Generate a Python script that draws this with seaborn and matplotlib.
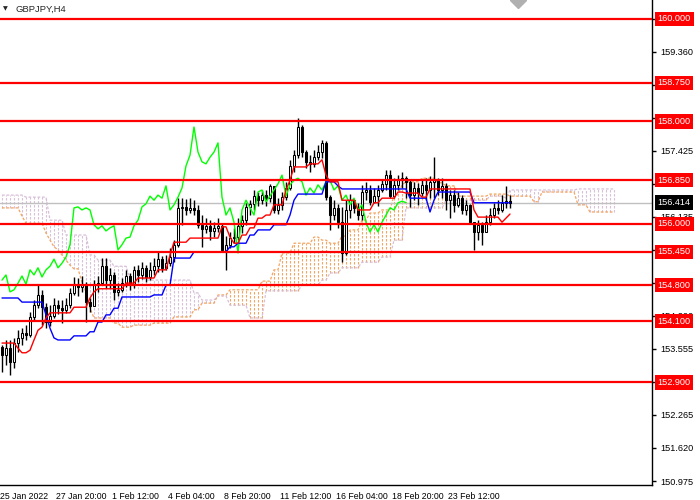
import numpy as np
import matplotlib
matplotlib.use('Agg')
import matplotlib.pyplot as plt
import matplotlib.transforms as mtransforms
import seaborn as sns

#### Data (GBPJPY H4) ####
symbol = 'GBPJPY,H4'
first_open = 153.60
closes = [153.44, 153.57, 153.30, 153.67, 153.77, 153.87, 153.83, 154.18, 154.41, 154.61,
          154.37, 154.08, 154.20, 154.41, 154.35, 154.32, 154.41, 154.65, 154.80, 154.76,
          154.82, 154.47, 154.39, 154.80, 154.84, 155.17, 154.90, 155.00, 154.67, 154.71,
          154.84, 154.98, 154.82, 155.10, 155.00, 155.14, 154.96, 155.10, 155.17, 155.31,
          155.14, 155.23, 155.35, 155.59, 156.31, 156.33, 156.27, 156.31, 156.27, 155.98,
          155.90, 155.96, 155.86, 155.92, 155.96, 155.49, 155.59, 155.72, 155.74, 155.96,
          156.07, 156.33, 156.39, 156.54, 156.46, 156.56, 156.50, 156.74, 156.27, 156.37,
          156.52, 156.70, 157.13, 157.34, 157.89, 157.40, 157.21, 157.17, 157.30, 157.40,
          157.58, 156.52, 156.17, 156.31, 156.03, 155.43, 156.27, 156.46, 156.31, 156.17,
          156.62, 156.66, 156.43, 156.54, 156.66, 156.78, 156.95, 156.54, 156.76, 156.85,
          156.89, 156.82, 156.56, 156.70, 156.60, 156.76, 156.66, 156.82, 156.85, 156.66,
          156.74, 156.46, 156.56, 156.37, 156.50, 156.27, 156.37, 156.03, 155.84, 155.98,
          155.84, 156.03, 156.17, 156.31, 156.27, 156.41, 156.44, 156.414]
highs = [153.63, 153.73, 153.73, 153.77, 153.92, 153.96, 154.02, 154.28, 154.51, 154.80,
         154.71, 154.45, 154.41, 154.55, 154.51, 154.51, 154.55, 154.74, 154.96, 154.94,
         154.98, 154.86, 154.55, 154.90, 154.98, 155.33, 155.33, 155.14, 155.06, 154.84,
         154.94, 155.10, 155.04, 155.17, 155.19, 155.25, 155.19, 155.25, 155.33, 155.45,
         155.37, 155.39, 155.53, 155.68, 156.50, 156.50, 156.48, 156.50, 156.46, 156.37,
         156.17, 156.11, 156.07, 156.03, 156.11, 156.00, 155.76, 155.84, 155.92, 156.11,
         156.17, 156.41, 156.46, 156.66, 156.62, 156.66, 156.66, 156.78, 156.74, 156.50,
         156.62, 156.82, 157.25, 157.44, 158.07, 157.93, 157.44, 157.34, 157.44, 157.54,
         157.64, 157.62, 156.56, 156.46, 156.39, 156.33, 156.46, 156.58, 156.46, 156.41,
         156.76, 156.82, 156.76, 156.70, 156.76, 156.85, 157.05, 157.05, 156.89, 156.95,
         157.01, 156.93, 156.85, 156.82, 156.80, 156.85, 156.89, 156.93, 157.30, 156.89,
         156.89, 156.80, 156.66, 156.66, 156.62, 156.56, 156.46, 156.39, 156.03, 156.07,
         156.03, 156.17, 156.31, 156.41, 156.46, 156.56, 156.74, 156.56]
lows = [153.10, 153.24, 153.05, 153.18, 153.49, 153.63, 153.73, 153.79, 154.12, 154.35,
        154.02, 153.96, 154.00, 154.16, 154.24, 154.06, 154.26, 154.35, 154.61, 154.59,
        154.67, 154.08, 154.28, 154.39, 154.67, 154.80, 154.74, 154.74, 154.51, 154.59,
        154.67, 154.76, 154.71, 154.74, 154.86, 154.92, 154.86, 154.90, 155.00, 155.06,
        155.06, 155.10, 155.17, 155.25, 155.55, 155.98, 156.17, 156.21, 156.17, 155.92,
        155.55, 155.82, 155.68, 155.74, 155.84, 155.45, 155.10, 155.53, 155.62, 155.68,
        155.82, 155.98, 156.17, 156.27, 156.35, 156.39, 156.35, 156.43, 156.21, 156.19,
        156.27, 156.46, 156.66, 157.01, 157.28, 157.30, 157.09, 157.01, 157.11, 157.25,
        157.28, 156.46, 155.88, 156.07, 155.92, 155.25, 155.39, 156.11, 156.21, 156.07,
        156.07, 156.46, 156.37, 156.41, 156.35, 156.62, 156.66, 156.50, 156.50, 156.66,
        156.70, 156.50, 156.33, 156.46, 156.37, 156.54, 156.46, 156.50, 156.50, 156.56,
        156.50, 156.27, 156.11, 156.23, 156.33, 156.19, 156.17, 156.00, 155.49, 155.68,
        155.59, 155.84, 155.98, 156.11, 156.19, 156.23, 156.31, 156.31]

# Ichimoku lines as (value, number of bars) runs
tenkan_runs = [(153.67, 4), (153.57, 1), (153.48, 2), (153.53, 1), (153.73, 1), (153.92, 1),
               (153.98, 1), (154.16, 1), (154.26, 6), (154.37, 4), (154.55, 1), (154.67, 1),
               (154.73, 7), (154.84, 3), (154.94, 5), (155.10, 3), (155.39, 1), (155.64, 4),
               (155.72, 8), (155.94, 2), (155.74, 1), (155.62, 2), (155.78, 2), (155.92, 2),
               (156.11, 2), (156.17, 2), (156.37, 3), (156.66, 1), (156.85, 1), (157.11, 4),
               (157.17, 3), (157.25, 1), (156.95, 1), (156.82, 3), (156.46, 4), (156.27, 4),
               (156.41, 2), (156.50, 4), (156.62, 2), (156.60, 4), (156.52, 2), (156.68, 11),
               (156.27, 1), (156.13, 6), (156.03, 1), (156.11, 1), (156.19, 1)]
kijun_runs = [(154.55, 5), (154.47, 6), (154.22, 1), (153.96, 1), (153.77, 1), (153.73, 4),
              (153.81, 4), (153.89, 2), (154.08, 2), (154.22, 2), (154.35, 2), (154.57, 8),
              (154.61, 3), (154.80, 2), (155.33, 5), (155.45, 9), (155.55, 2), (155.62, 3),
              (155.78, 2), (155.88, 4), (155.98, 4), (156.17, 1), (156.46, 1), (156.58, 7),
              (156.82, 3), (156.74, 1), (156.68, 17), (156.50, 5), (156.23, 1), (156.46, 1),
              (156.62, 9), (156.41, 10)]
span_a_runs = [(156.31, 5), (156.15, 1), (156.01, 5), (155.82, 1), (155.68, 1), (155.55, 1),
               (155.49, 1), (155.39, 1), (155.29, 1), (155.19, 1), (155.12, 2), (154.86, 1),
               (154.67, 1), (154.35, 1), (154.16, 5), (154.06, 2), (153.98, 3), (154.02, 5),
               (154.06, 5), (154.18, 5), (154.32, 2), (154.45, 4), (154.61, 3), (154.71, 8),
               (154.88, 3), (155.10, 2), (155.43, 3), (155.62, 5), (155.74, 2), (155.68, 2),
               (155.62, 3), (155.76, 2), (155.88, 3), (156.07, 2), (156.21, 3), (156.27, 3),
               (156.56, 2), (156.76, 1), (156.82, 4), (156.89, 4), (156.80, 2), (156.74, 3),
               (156.54, 8), (156.58, 5), (156.54, 6), (156.43, 2), (156.62, 9), (156.37, 3),
               (156.23, 7)]
span_b_runs = [(156.56, 6), (156.52, 6), (156.07, 4), (155.78, 6), (155.39, 2), (155.29, 4),
               (155.17, 4), (154.94, 4), (154.90, 12), (154.65, 2), (154.51, 4), (154.59, 3),
               (154.41, 5), (154.16, 4), (154.69, 9), (154.80, 5), (154.90, 2), (155.04, 3),
               (155.14, 5), (155.25, 5), (155.35, 3), (155.68, 3), (156.31, 10), (156.46, 11),
               (156.54, 4), (156.50, 1), (156.66, 17), (156.68, 10)]
chikou_shift = 26

levels = [160.000, 158.750, 158.000, 156.850, 156.000, 155.450, 154.800, 154.100, 152.900]
bid = 156.414
price_ticks = [150.975, 151.620, 152.265, 152.910, 153.555, 154.200, 154.845, 155.490,
               156.135, 156.780, 157.425, 158.070, 158.715, 159.360, 160.005]
time_labels = ['25 Jan 2022', '27 Jan 20:00', '1 Feb 12:00', '4 Feb 04:00', '8 Feb 20:00',
               '11 Feb 12:00', '16 Feb 04:00', '18 Feb 20:00', '23 Feb 12:00']
bars_per_label = 14


def expand(runs):
    return np.concatenate([np.full(n, v) for v, n in runs])


closes = np.array(closes)
highs = np.array(highs)
lows = np.array(lows)
opens = np.concatenate([[first_open], closes[:-1]])
idx = np.arange(len(closes))
tenkan = expand(tenkan_runs)
kijun = expand(kijun_runs)
span_a = expand(span_a_runs)
span_b = expand(span_b_runs)
cloud_idx = np.arange(len(span_a))

#### Style ####
sns.set_style('white')
plt.rcParams['font.family'] = ['Liberation Sans', 'DejaVu Sans']

fig = plt.figure(figsize=(7, 5), dpi=100)
ax = fig.add_axes([0, 15 / 500, 652 / 700, 485 / 500])
ax.set_xlim(-0.5, 162.5)
ax.set_ylim(150.897, 160.371)

#### Cloud (dotted hatching) ####
dash = (0, (2.2, 1.4))
up = span_a >= span_b
cloud_cols = np.where(up, '#F4A460', '#D8BFD8')
ax.vlines(cloud_idx, np.minimum(span_a, span_b), np.maximum(span_a, span_b),
          colors=cloud_cols, linestyles=[dash], lw=0.8, zorder=1)
sns.lineplot(x=cloud_idx, y=span_a, color='#F4A460', lw=0.9, linestyle=dash, ax=ax,
             legend=False, zorder=1.2)
sns.lineplot(x=cloud_idx, y=span_b, color='#D8BFD8', lw=0.9, linestyle=dash, ax=ax,
             legend=False, zorder=1.2)

# bid line
ax.axhline(bid, color='#C0C0C0', lw=1, zorder=1.5)

#### Candles ####
wick_lo = np.minimum(lows, np.minimum(opens, closes))
wick_hi = np.maximum(highs, np.maximum(opens, closes))
ax.vlines(idx, wick_lo, wick_hi, color='black', lw=1, zorder=2)
bull = closes >= opens
body_h = np.maximum(np.abs(closes - opens), 0.012)
body_b = np.minimum(opens, closes)
ax.bar(idx[bull], body_h[bull], bottom=body_b[bull], width=0.72, color='white',
       edgecolor='black', lw=0.75, zorder=2.2)
ax.bar(idx[~bull], body_h[~bull], bottom=body_b[~bull], width=0.72, color='black',
       edgecolor='black', lw=0.75, zorder=2.2)

#### Ichimoku lines ####
sns.lineplot(x=idx[:len(closes) - chikou_shift], y=closes[chikou_shift:], color='#00FF00',
             lw=1, ax=ax, legend=False, zorder=3)
sns.lineplot(x=idx, y=kijun, color='#0000FF', lw=1, ax=ax, legend=False, zorder=3)
sns.lineplot(x=idx, y=tenkan, color='#FF0000', lw=1, ax=ax, legend=False, zorder=3)

#### Horizontal levels ####
for lv in levels:
    ax.axhline(lv, color='#FF0000', lw=1.6, zorder=4)

# chart shift marker
ax.plot(129, 160.371, marker='D', color='#B0B0B0', ms=8, zorder=5)

#### Axes ####
for s in ['left', 'top']:
    ax.spines[s].set_visible(False)
for s in ['right', 'bottom']:
    ax.spines[s].set_color('black')
    ax.spines[s].set_linewidth(1)

ax.yaxis.tick_right()
ax.set_yticks(price_ticks)
ax.set_yticklabels([f'{p:.3f}' for p in price_ticks])
ax.tick_params(axis='y', labelsize=6.6, length=3, width=1, pad=3, colors='black')

tick_pos = [-0.5 + bars_per_label * k for k in range(len(time_labels))]
ax.set_xticks(tick_pos)
ax.set_xticklabels(time_labels)
for lbl in ax.get_xticklabels():
    lbl.set_horizontalalignment('left')
ax.tick_params(axis='x', labelsize=6.3, length=4, width=1, pad=1, colors='black')
ax.set_xlabel('')
ax.set_ylabel('')

# price boxes on the right scale
trans = mtransforms.blended_transform_factory(ax.transAxes, ax.transData)
for lv in levels:
    ax.text(1.0085, lv, f'{lv:.3f}', transform=trans, ha='left', va='center',
            fontsize=6.6, color='white', zorder=10, clip_on=False,
            bbox=dict(boxstyle='square,pad=0.3', fc='#FF0000', ec='none'))
ax.text(1.0085, bid, f'{bid:.3f}', transform=trans, ha='left', va='center',
        fontsize=6.6, color='white', zorder=10, clip_on=False,
        bbox=dict(boxstyle='square,pad=0.3', fc='black', ec='none'))

# symbol caption
fig.text(3 / 700, 1 - 9 / 500, '\u25bc', fontsize=4.5, va='center', ha='left',
         family=['DejaVu Sans'])
fig.text(15 / 700, 1 - 9 / 500, symbol, fontsize=6.8, va='center', ha='left')

fig.savefig('out.png', dpi=100)
